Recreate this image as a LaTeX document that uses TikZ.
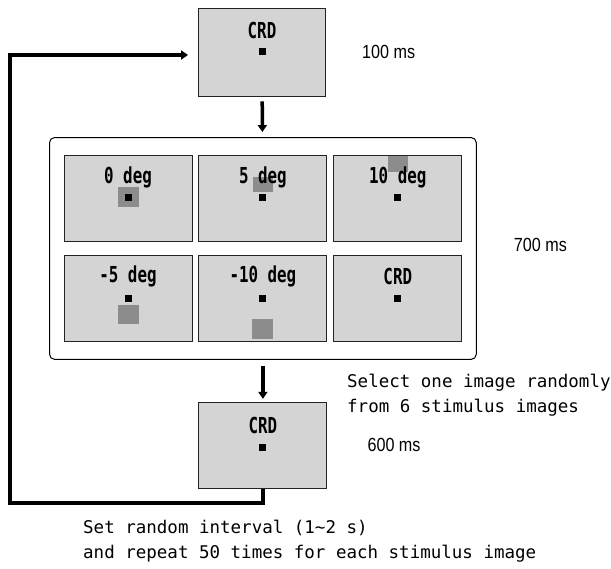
\documentclass[tikz,border=0pt]{standalone}
\usepackage{fontspec}
\usepackage{tikz}
\usetikzlibrary{
    arrows.meta,
    positioning,
    fit,
    backgrounds
}
\newfontfamily\lblfont{DejaVu Sans Mono}[FakeStretch=0.72]
\newfontfamily\notefont{DejaVu Sans Mono}
\newfontfamily\timefont{Liberation Sans}[FakeStretch=0.85]
\definecolor{Cscreen}{RGB}{212, 212, 212}
\definecolor{Cpatch}{RGB}{140, 140, 140}
\definecolor{Cedge}{RGB}{35, 35, 35}
\tikzset{
    screen/.style={
        rectangle, draw=Cedge, line width=0.9pt, fill=Cscreen,
        minimum width=128pt, minimum height=86pt, inner sep=0pt
    },
    fixdot/.style={rectangle, fill=black, minimum size=7pt, inner sep=0pt},
    patch/.style={rectangle, fill=Cpatch, minimum width=20pt, minimum height=18pt, inner sep=0pt},
    slabel/.style={font=\lblfont\bfseries\fontsize{22}{22}\selectfont, inner sep=0pt},
    tlabel/.style={font=\timefont\fontsize{19}{19}\selectfont, anchor=west, inner sep=0pt},
    nlabel/.style={font=\notefont\fontsize{17.5}{25}\selectfont, anchor=west, align=left, inner sep=0pt},
    farr/.style={-{Triangle[length=7pt, width=9pt]}, line width=3.5pt},
}
\begin{document}
\begin{tikzpicture}[x=1pt, y=-1pt, node distance=14pt and 6pt]
    \useasboundingbox (0,0) rectangle (611,569);

    % ── first screen: CRD, 100 ms ─────────────────────────
    \node [screen, minimum width=127pt, minimum height=88pt] (crdtop) at (262,52) {};
    \node [slabel] (crdtoplbl) at ([yshift=22pt]crdtop.center) {CRD};
    \node [fixdot] (crdtopdot) at (crdtop.center) {};

    % ── stimulus screens, first row ──────────────────────
    \node [screen] (s0) at (128,198) {};
    \node [patch, minimum width=21pt, minimum height=20pt] (p0) at ([yshift=1pt]s0.center) {};
    \node [slabel] (s0lbl) at ([yshift=21pt]s0.center) {0 deg};
    \node [fixdot] (s0dot) at (s0.center) {};

    \node [screen, right=of s0] (s5) {};
    \node [patch, minimum height=15pt] (p5) at ([yshift=13pt]s5.center) {};
    \node [slabel] (s5lbl) at ([yshift=21pt]s5.center) {5 deg};
    \node [fixdot] (s5dot) at (s5.center) {};

    \node [screen, right=of s5] (s10) {};
    \node [patch, minimum height=16pt] (p10) at ([yshift=34pt]s10.center) {};
    \node [slabel] (s10lbl) at ([yshift=21pt]s10.center) {10 deg};
    \node [fixdot] (s10dot) at (s10.center) {};

    % ── stimulus screens, second row ─────────────────────
    \node [screen, below=of s0] (sm5) {};
    \node [patch, minimum width=21pt, minimum height=19pt] (pm5) at ([yshift=-16pt]sm5.center) {};
    \node [slabel] (sm5lbl) at ([yshift=22pt]sm5.center) {-5 deg};
    \node [fixdot] (sm5dot) at (sm5.center) {};

    \node [screen, below=of s5] (sm10) {};
    \node [patch, minimum width=21pt, minimum height=20pt] (pm10) at ([yshift=-30pt]sm10.center) {};
    \node [slabel] (sm10lbl) at ([yshift=22pt]sm10.center) {-10 deg};
    \node [fixdot] (sm10dot) at (sm10.center) {};

    \node [screen, below=of s10] (scrd) {};
    \node [slabel] (scrdlbl) at ([yshift=22pt]scrd.center) {CRD};
    \node [fixdot] (scrddot) at (scrd.center) {};

    % ── frame round the six screens ──────────────────────
    \begin{scope}[on background layer]
        \node [fit=(s0)(s10)(sm5)(scrd),
               draw=black, line width=1pt,
               rounded corners=5pt, inner xsep=14pt, inner ysep=17pt]
               (frame) {};
    \end{scope}

    % ── last screen: CRD, 600 ms ─────────────────────────
    \node [screen, below=42pt of frame] (crdbot) {};
    \node [slabel] (crdbotlbl) at ([yshift=20pt]crdbot.center) {CRD};
    \node [fixdot] (crdbotdot) at ([yshift=-2pt]crdbot.center) {};

    % ── durations ────────────────────────────────────────
    \node [tlabel, right=36pt of crdtop] (t100) {100 ms};
    \node [tlabel, right=37pt of frame, yshift=3pt] (t700) {700 ms};
    \node [tlabel, right=40pt of crdbot] (t600) {600 ms};

    % ── arrows ───────────────────────────────────────────
    \draw [farr, shorten <=5pt, shorten >=5pt] (crdtop) -- (frame);
    \draw [farr, shorten <=6pt, shorten >=3pt] (frame) -- (crdbot);
    \coordinate (loopcorner) at (10,503);
    \draw [farr, line join=miter, shorten >=10pt]
        (crdbot.south) |- (loopcorner) |- ([yshift=-3pt]crdtop.west);

    % ── notes ────────────────────────────────────────────
    \node [nlabel] (selnote) at (347,395)
        {Select one image randomly\\from 6 stimulus images};
    \node [nlabel] (loopnote) at (83,541)
        {Set random interval (1∼2 s)\\and repeat 50 times for each stimulus image};

\end{tikzpicture}
\end{document}
